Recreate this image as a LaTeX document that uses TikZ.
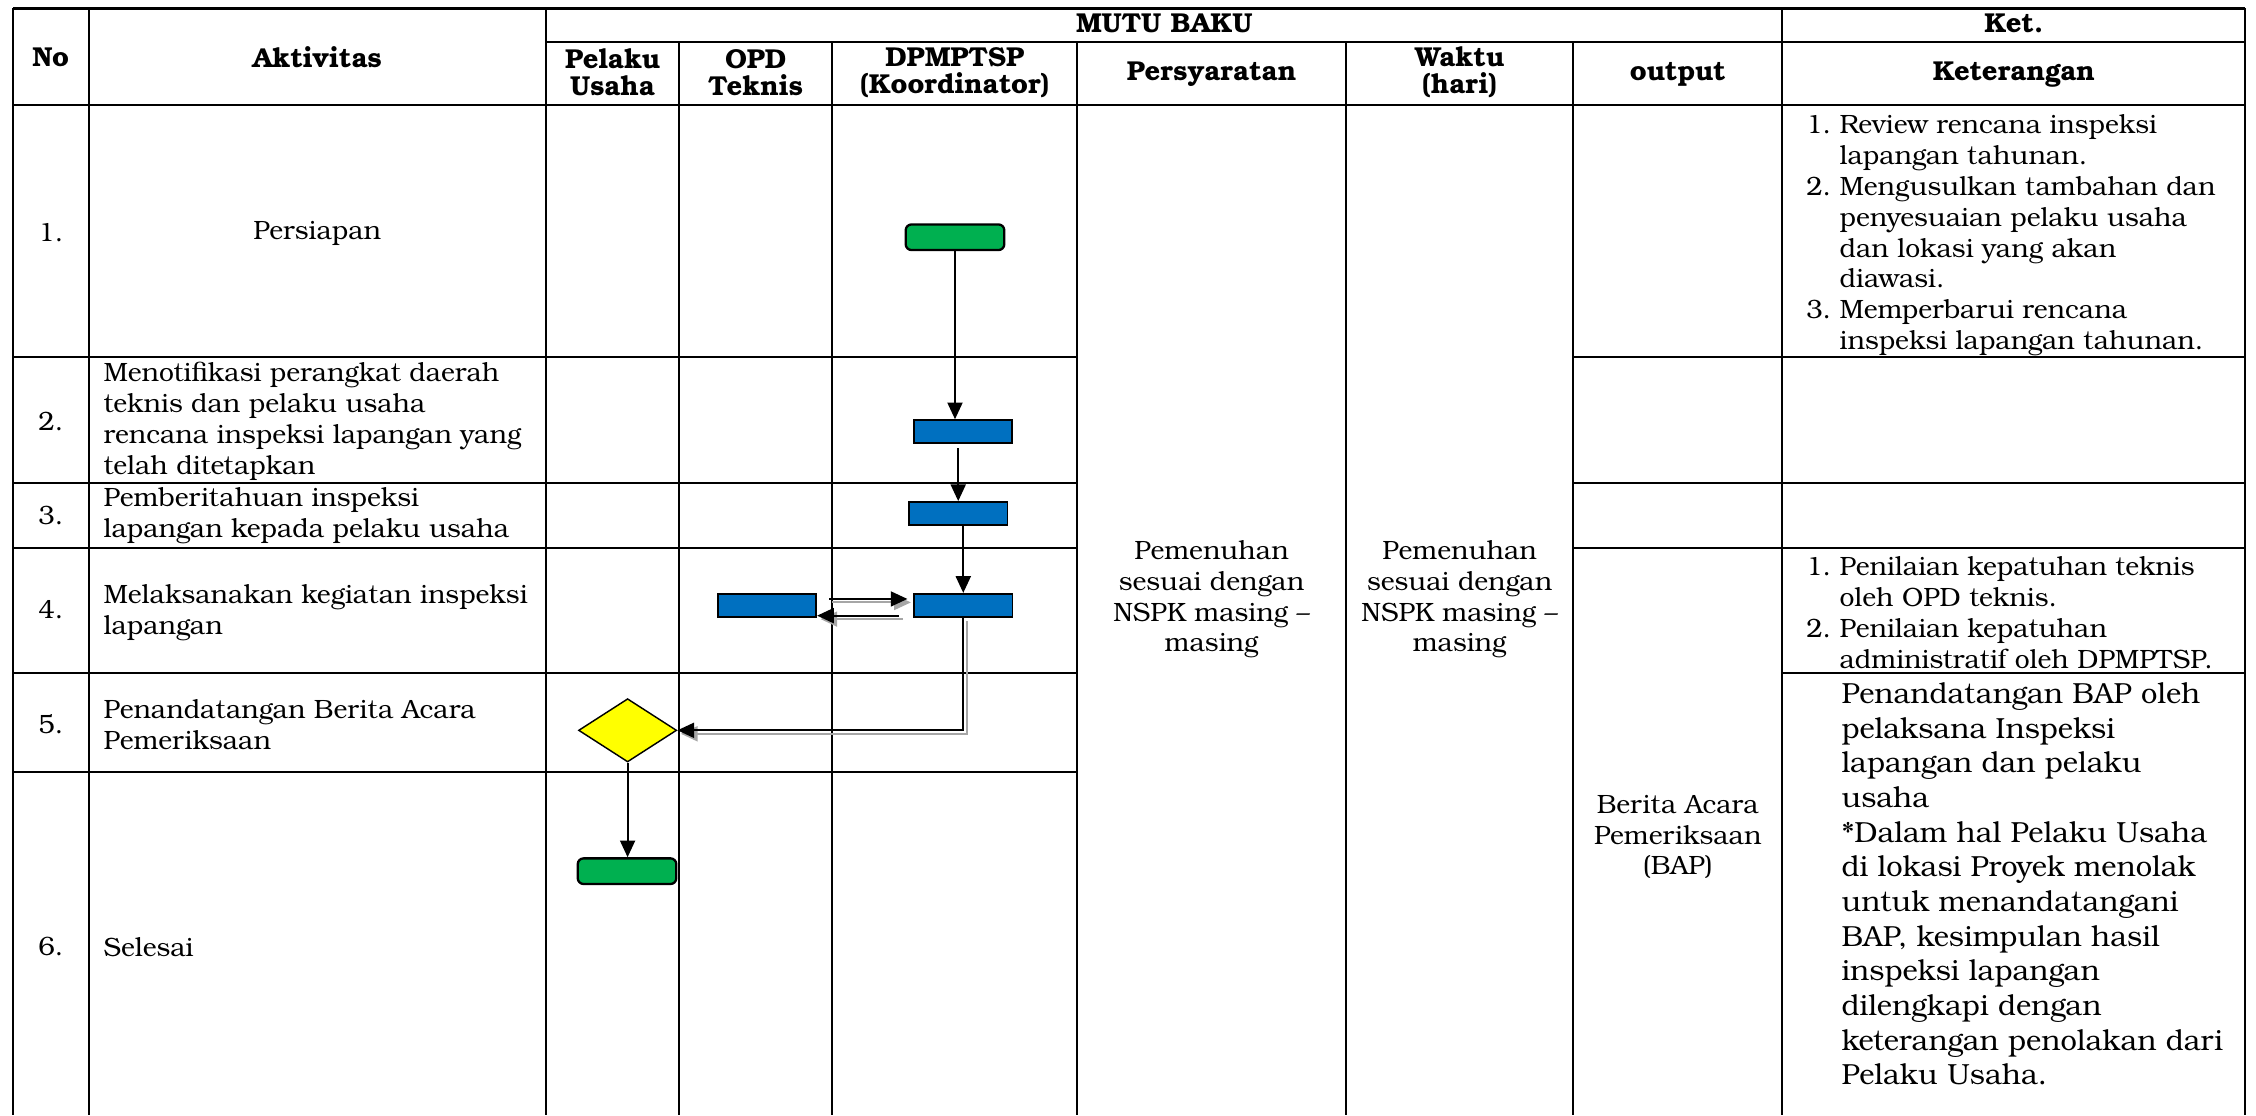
\documentclass[tikz,border=0pt]{standalone}
\usepackage{fontspec}
\setmainfont{TeX Gyre Bonum}
\usetikzlibrary{shapes.geometric,arrows.meta,calc}
\definecolor{gbox}{HTML}{00B050}
\definecolor{bbox}{HTML}{0070C0}
\definecolor{ybox}{HTML}{FFFF00}
\newcommand\dualarrow[1]{\draw[shadowline] #1; \draw[conn] #1;}
\newcommand\lnum[1]{\makebox[11.6pt][l]{#1}}
\newcommand\lind{\hspace*{11.6pt}}
\lineskiplimit=-5pt\relax
\begin{document}
\begin{tikzpicture}[x=0.5pt,y=-0.5pt,
  tline/.style={line width=0.7pt},
  tx/.style={inner sep=0pt, font=\fontsize{9.2}{10.75}\selectfont, align=left},
  txc/.style={inner sep=0pt, font=\fontsize{9.2}{10.75}\selectfont, align=center},
  txl/.style={inner sep=0pt, font=\fontsize{10.1}{12.05}\selectfont, align=left},
  hd/.style={inner sep=0pt, font=\bfseries\fontsize{9.5}{9.3}\selectfont, align=center},
  gstart/.style={draw=black, line width=0.8pt, fill=gbox, rounded corners=2pt, minimum width=34.25pt, minimum height=8.9pt, inner sep=0pt},
  bproc/.style={draw=black, line width=0.6pt, fill=bbox, minimum width=34.2pt, minimum height=8pt, inner sep=0pt},
  decis/.style={diamond, draw=black, line width=0.5pt, fill=ybox, minimum width=34.1pt, minimum height=22pt, inner sep=0pt},
  conn/.style={draw=black, line width=0.7pt, -{Triangle[length=5.8pt,width=5.2pt]}},
  shadowline/.style={draw=black!35, line width=0.7pt, -{Triangle[length=5.8pt,width=5.2pt]}, transform canvas={xshift=1.2pt,yshift=-1.2pt}}
]
\useasboundingbox (0,0) rectangle (1568,775);
% ---------- table grid ----------
\draw[line width=0.9pt] (9,5.8) -- (1560.6,5.8);
\draw[tline] (379.5,29) -- (1560.6,29);
\draw[tline] (9,73) -- (1560.6,73);
\foreach \yy in {248,335.8,380.7}{
  \draw[tline] (9,\yy) -- (748.8,\yy);
  \draw[tline] (1093.5,\yy) -- (1560.6,\yy);
}
\draw[tline] (9,468) -- (748.8,468);
\draw[tline] (1238.8,468) -- (1560.6,468);
\draw[tline] (9,536.7) -- (748.8,536.7);
\foreach \xx in {9,61.6,379.5,1238.8,1560.6}{
  \draw[tline] (\xx,5.8) -- (\xx,775);
}
\foreach \xx in {472,578.4,748.8,935.5,1093.5}{
  \draw[tline] (\xx,29) -- (\xx,775);
}
% ---------- header ----------
\node[hd] (hNo) at (35.3,39.5) {No};
\node[hd] (hAk) at (220.5,39.5) {Aktivitas};
\node[hd] (hMB) at (809.2,16.5) {MUTU BAKU};
\node[hd] (hKet) at (1399.7,16.5) {Ket.};
\node[hd] (hPU) at (425.7,50.4) {Pelaku\\Usaha};
\node[hd] (hOPD) at (525.2,50.4) {OPD\\Teknis};
\node[hd] (hDP) at (663.6,50.4) {DPMPTSP\\(Koordinator)};
\node[hd] (hPs) at (842.1,51.8) {Persyaratan};
\node[hd] (hWk) at (1014.5,50.4) {Waktu\\(hari)};
\node[hd] (hOut) at (1166.1,51.8) {output};
\node[hd] (hKe) at (1399.7,51.8) {Keterangan};
% ---------- numbers ----------
\node[tx] (n1) at (35.3,162) {1.};
\node[tx] (n2) at (35.3,293) {2.};
\node[tx] (n3) at (35.3,358.6) {3.};
\node[tx] (n4) at (35.3,424) {4.};
\node[tx] (n5) at (35.3,503) {5.};
\node[tx] (n6) at (35.3,658) {6.};
% ---------- activities ----------
\node[tx] (a1) at (220.5,162) {Persiapan};
\node[tx,anchor=west] (a2) at (71.6,292.8) {Menotifikasi perangkat daerah\\teknis dan pelaku usaha\\rencana inspeksi lapangan yang\\telah ditetapkan};
\node[tx,anchor=west] (a3) at (71.6,358.5) {Pemberitahuan inspeksi\\lapangan kepada pelaku usaha};
\node[tx,anchor=west] (a4) at (71.6,426) {Melaksanakan kegiatan inspeksi\\lapangan};
\node[tx,anchor=west] (a5) at (71.6,503.4) {Penandatangan Berita Acara\\Pemeriksaan};
\node[tx,anchor=west] (a6) at (71.6,658) {Selesai};
% ---------- mutu baku ----------
\node[txc] (ps) at (842.1,416.5) {Pemenuhan\\sesuai dengan\\NSPK masing –\\masing};
\node[txc] (wk) at (1014.5,416.5) {Pemenuhan\\sesuai dengan\\NSPK masing –\\masing};
\node[txc] (out) at (1166.1,581.7) {Berita Acara\\Pemeriksaan\\(BAP)};
% ---------- keterangan ----------
\node[tx,anchor=west] (k1) at (1255,163.5) {\lnum{1.}Review rencana inspeksi\\\lind lapangan tahunan.\\\lnum{2.}Mengusulkan tambahan dan\\\lind penyesuaian pelaku usaha\\\lind dan lokasi yang akan\\\lind diawasi.\\\lnum{3.}Memperbarui rencana\\\lind inspeksi lapangan tahunan.};
\node[tx,anchor=west] (k4) at (1255,426) {\lnum{1.}Penilaian kepatuhan teknis\\\lind oleh OPD teknis.\\\lnum{2.}Penilaian kepatuhan\\\lind administratif oleh DPMPTSP.};
\node[txl,anchor=west] (k5) at (1279.5,614.3) {Penandatangan BAP oleh\\pelaksana Inspeksi\\lapangan dan pelaku\\usaha\\*Dalam hal Pelaku Usaha\\di lokasi Proyek menolak\\untuk menandatangani\\BAP, kesimpulan hasil\\inspeksi lapangan\\dilengkapi dengan\\keterangan penolakan dari\\Pelaku Usaha.};
% ---------- flow shapes ----------
\node[gstart] (start) at (663.75,164.9) {};
\node[bproc] (b2) at (669.4,300) {};
\node[bproc] (b3) at (666,356.9) {};
\node[bproc] (b4) at (669.5,420.7) {};
\node[bproc] (opd) at (533.1,420.7) {};
\node[decis] (dia) at (436.2,507.6) {};
\node[gstart] (end) at (435.8,605.5) {};
% ---------- connectors ----------
\draw[conn] (start.south) -- (start.south |- b2.north);
\draw[conn] ([yshift=-1.5pt]b3.north |- b2.south) -- (b3.north);
\draw[conn] (b4.north |- b3.south) -- (b4.north);
\dualarrow{($(opd.east)+(8.3,-4.4)$) -- ($(b4.west)+(-4,-4.4)$)}
\dualarrow{($(b4.west)+(-9.8,7.2)$) -- ($(opd.east)+(0,7.2)$)}
\dualarrow{(b4.south) |- (dia.east)}
\draw[conn] (dia.south) -- (dia.south |- end.north);
\end{tikzpicture}
\end{document}
